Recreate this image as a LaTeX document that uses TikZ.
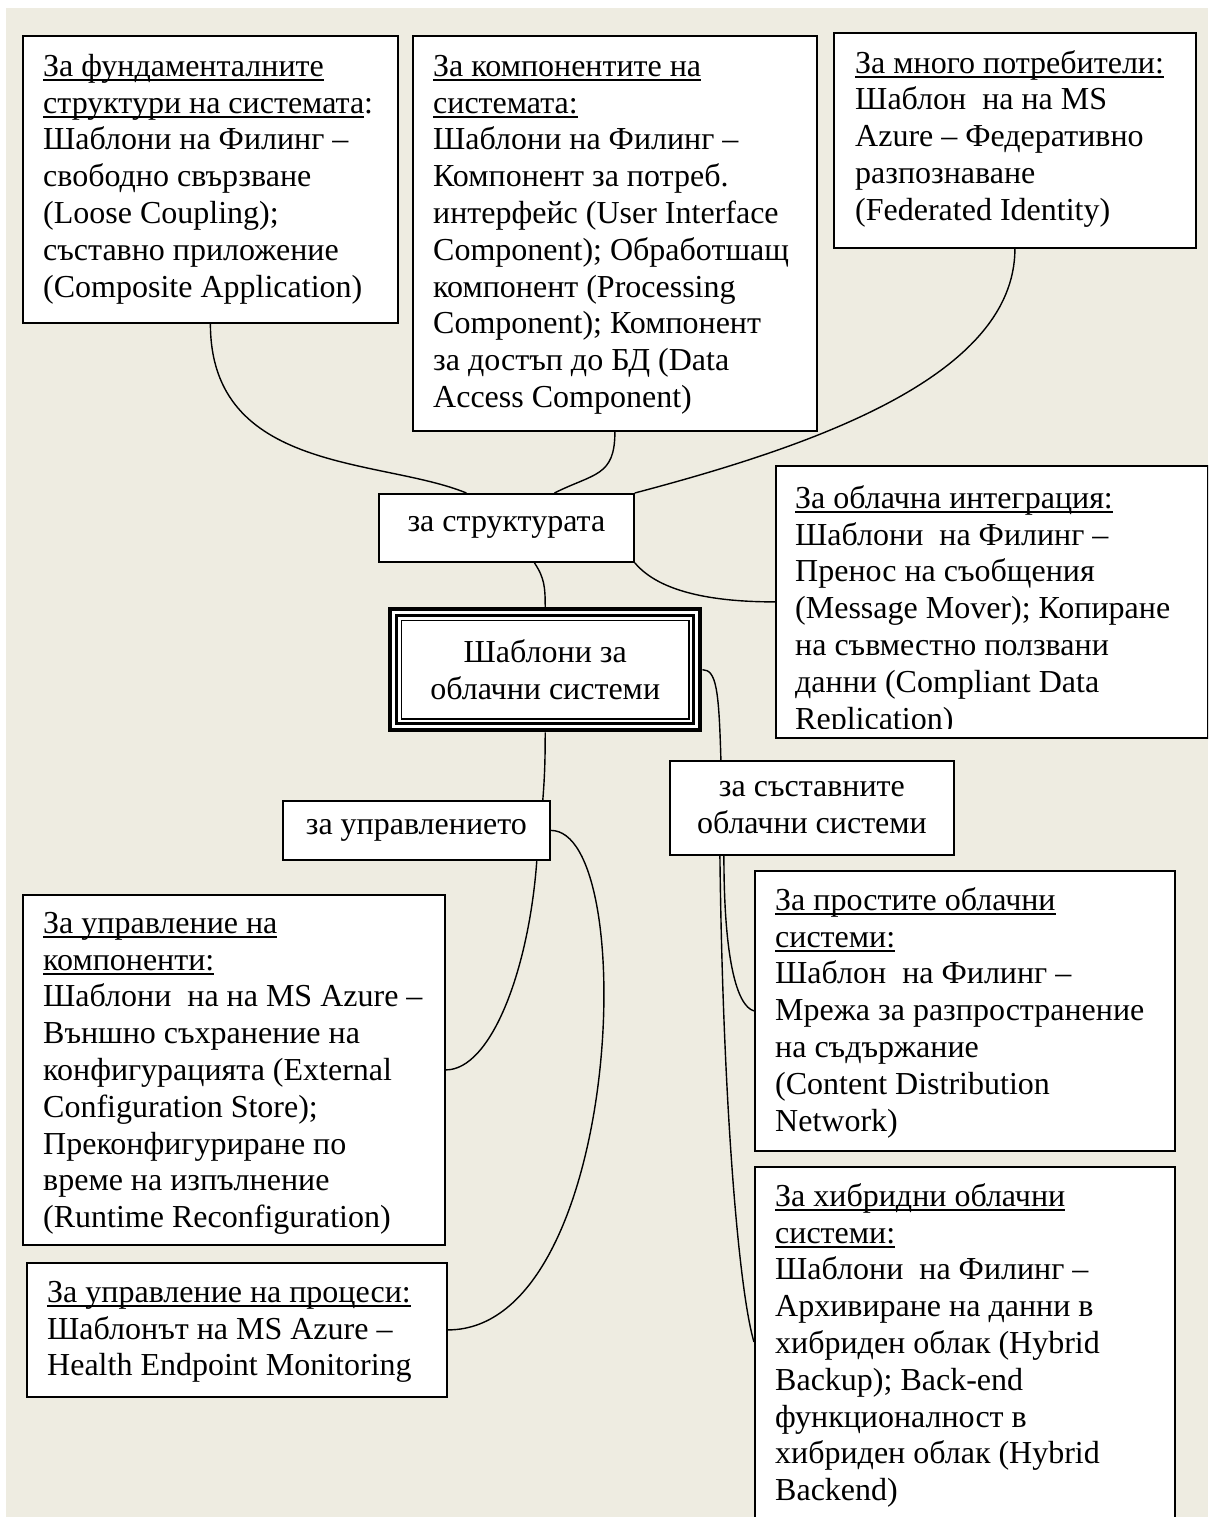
\documentclass[tikz,border=0pt]{standalone}
\usepackage{fontspec}
\setmainfont{Liberation Serif}
\usetikzlibrary{calc}
\definecolor{pagebg}{HTML}{EEECE1}
\newcommand\bodyfont{\fontsize{32}{36.8}\selectfont}
% underlined heading with a fixed rule position
\newcommand\hdr[1]{\setbox0=\hbox{#1}\rlap{\rule[-4.5pt]{\wd0}{1.5pt}}\box0}
% strut that fixes the height of a first line
\newcommand\fl{\rule{0pt}{25pt}}

\begin{document}
\begin{tikzpicture}[x=1pt,y=-1pt,
  box/.style={draw, line width=1.8pt, fill=white, anchor=north west, inner sep=0pt},
  tagbox/.style={box, align=center, font=\bodyfont},
  txt/.style={anchor=north west, inner sep=0pt, align=left, font=\bodyfont},
  link/.style={line width=1.4pt}
]
\useasboundingbox (0,0) rectangle (1208,1517);
\clip (0,0) rectangle (1208,1517);
\fill[white] (0,0) rectangle (1208,1517);
\fill[pagebg] (6,8) rectangle (1208,1517);

% ---- boxes ----
\node[box, minimum width=375, minimum height=287] (A) at (22,35) {};
\node[box, minimum width=404, minimum height=395] (B) at (412,35) {};
\node[box, minimum width=362, minimum height=215] (C) at (833,32) {};
\node[tagbox, minimum width=255, minimum height=68] (D) at (378,493) {за структурата};
\node[box, minimum width=432, minimum height=272] (E) at (775,465) {};
\node[tagbox, minimum width=284, minimum height=94] (F) at (669,760) {за съставните\\облачни системи};
\node[tagbox, minimum width=267, minimum height=59] (G) at (282,800) {за управлението};
\node[box, minimum width=422, minimum height=350] (H) at (22,894) {};
\node[box, minimum width=420, minimum height=134] (Hl) at (26,1262) {};
\node[box, minimum width=420, minimum height=280] (I) at (754,870) {};
\node[box, minimum width=420, minimum height=394] (J) at (754,1166) {};

% central node with a triple frame
\node[anchor=north west, fill=white, minimum width=314, minimum height=125,
      inner sep=0pt, align=center, font=\bodyfont] (main) at (388,607)
      {Шаблони за\\облачни системи};
\draw[line width=4pt] ([shift={(2,2)}]main.north west) rectangle ([shift={(-2,-2)}]main.south east);
\draw[line width=3pt] ([shift={(8.5,8.5)}]main.north west) rectangle ([shift={(-8.5,-8.5)}]main.south east);
\draw[line width=1.2pt] ([shift={(13.5,13.5)}]main.north west) rectangle ([shift={(-13.5,-13.5)}]main.south east);

% ---- texts ----
\node[txt] (Atext) at (43,51) {\fl\hdr{За фундаменталните}\\\hdr{структури на системата}:\\Шаблони на Филинг –\\свободно свързване\\(Loose Coupling);\\съставно приложение\\(Composite Application)};
\node[txt] (Btext) at (433,51) {\fl\hdr{За компонентите на}\\\hdr{системата:}\\Шаблони на Филинг –\\Компонент за потреб.\\интерфейс (User Interface\\Component); Обработшащ\\компонент (Processing\\Component); Компонент\\за достъп до БД (Data\\Access Component)};
\node[txt] (Ctext) at (855,48) {\fl\hdr{За много потребители:}\\Шаблон~ на на MS\\Azure – Федеративно\\разпознаване\\(Federated Identity)};
\begin{scope}
  % the text frame cuts the last line short
  \clip ([shift={(1,1)}]E.north west) rectangle ([shift={(-1,-10)}]E.south east);
  \node[txt] (Etext) at (795,483) {\fl\hdr{За облачна интеграция:}\\Шаблони~ на Филинг –\\Пренос на съобщения\\(Message Mover); Копиране\\на съвместно ползвани\\данни (Compliant Data\\Replication)};
\end{scope}
\node[txt] (Htext) at (43,908) {\fl\hdr{За управление на}\\\hdr{компоненти:}\\Шаблони~ на на MS Azure –\\Външно съхранение на\\конфигурацията (External\\Configuration Store);\\Преконфигуриране по\\време на изпълнение\\(Runtime Reconfiguration)};
\node[txt] (Hltext) at (47,1277) {\fl\hdr{За управление на процеси:}\\Шаблонът на MS Azure –\\Health Endpoint Monitoring};
\node[txt] (Itext) at (775,885) {\fl\hdr{За простите облачни}\\\hdr{системи:}\\Шаблон~ на Филинг –\\Мрежа за разпространение\\на съдържание\\(Content Distribution\\Network)};
\node[txt] (Jtext) at (775,1181) {\fl\hdr{За хибридни облачни}\\\hdr{системи:}\\Шаблони~ на Филинг –\\Архивиране на данни в\\хибриден облак (Hybrid\\Backup); Back-end\\функционалност в\\хибриден облак (Hybrid\\Backend)};

% ---- connectors ----
\draw[link] (A.south) .. controls +(0,150) and +(-85,-35) .. ([xshift=-40pt]D.north);
\draw[link] (B.south) .. controls +(0,45) and +(40,-20) .. ([xshift=48pt]D.north);
\draw[link] (C.south) .. controls +(0,130) and +(170,-45) .. (D.north east);
\draw[link] ([xshift=28pt]D.south) .. controls +(10,15) and +(0,-20) .. (main.north);
\draw[link] (D.south east) .. controls +(25,30) and +(-60,0) .. (E.west);
\draw[link] (main.east) .. controls +(14,0) and +(-2,-70) .. ([xshift=-91pt]F.north);
\draw[link] (main.south) .. controls +(0,25) and +(2,-25) .. ([xshift=-8pt]G.north east);
\draw[link] ([xshift=-14pt]G.south east) .. controls +(-8,110) and +(45,0) .. (H.east);
\draw[link] (G.east) .. controls +(90,0) and +(175,0) .. (Hl.east);
\draw[link] ([xshift=-88pt]F.south) .. controls +(0,100) and +(-18,-5) .. (I.west);
\draw[link] ([xshift=-92pt]F.south) .. controls +(3,250) and +(-15,-50) .. ([yshift=-176pt]J.north west);
\end{tikzpicture}
\end{document}
